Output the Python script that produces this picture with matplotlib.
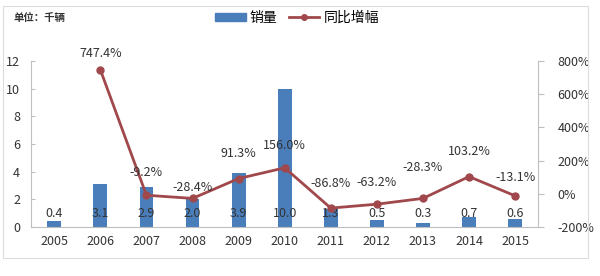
import matplotlib.pyplot as plt
from matplotlib.lines import Line2D
from matplotlib.patches import Patch, Rectangle

plt.rcParams['font.family'] = ['Noto Sans CJK SC', 'DejaVu Sans']

years = ['2005', '2006', '2007', '2008', '2009', '2010', '2011', '2012', '2013', '2014', '2015']
sales = [0.4, 3.1, 2.9, 2.0, 3.9, 10.0, 1.3, 0.5, 0.3, 0.7, 0.6]
growth = [747.4, -9.2, -28.4, 91.3, 156.0, -86.8, -63.2, -28.3, 103.2, -13.1]

# label offsets above each growth point, in pixels
growth_offsets = [16, 23, 11, 25, 22, 25, 22, 31, 25, 18]

bar_color = '#4A7EBB'
line_color = '#A0484B'
text_color = '#333333'
axis_color = '#bfbfbf'

fig = plt.figure(figsize=(6, 2.76), dpi=100)
fig.patches.append(Rectangle((0.005, 0.065), 0.975, 0.915, transform=fig.transFigure,
                             fill=False, edgecolor='#dddddd', lw=0.8))
ax = fig.add_axes([0.052, 0.178, 0.845, 0.601])
ax2 = ax.twinx()

x = list(range(len(years)))
ax.bar(x, sales, width=0.3, color=bar_color, zorder=2)
for xi, v in zip(x, sales):
    ax.text(xi, 1.0, f'{v:.1f}', ha='center', va='center', fontsize=9, color=text_color, zorder=4)

gx = x[1:]
ax2.plot(gx, growth, color=line_color, lw=2, marker='o', markersize=5, zorder=3)
for xi, v, off in zip(gx, growth, growth_offsets):
    ax2.annotate(f'{v:.1f}%', (xi, v), xytext=(0, off * 0.72), textcoords='offset points',
                 ha='center', va='center', fontsize=9, color=text_color)

ax.set_xlim(-0.5, len(years) - 0.5)
ax.set_ylim(0, 12)
ax.set_yticks(range(0, 13, 2))
ax2.set_ylim(-200, 800)
ax2.set_yticks(range(-200, 801, 200))
ax2.set_yticklabels([f'{t}%' for t in range(-200, 801, 200)])

ax.set_xticks(x)
ax.set_xticklabels(years)
for a in (ax, ax2):
    a.spines['top'].set_visible(False)
    a.tick_params(labelsize=9, colors=text_color, length=0)
ax.spines['right'].set_visible(False)
ax2.spines['left'].set_visible(False)
ax2.spines['bottom'].set_visible(False)
ax.spines['left'].set_color(axis_color)
ax.spines['bottom'].set_color(axis_color)
ax2.spines['right'].set_color(axis_color)
ax.tick_params(axis='y', length=3, color=axis_color, direction='in', pad=8)
ax.tick_params(axis='x', pad=6)
ax2.tick_params(axis='y', length=4, color=axis_color, direction='out', pad=10)

fig.text(0.022, 0.935, '单位：千辆', fontsize=7.5, fontweight='bold', color=text_color, va='center')

handles = [Patch(color=bar_color), Line2D([], [], color=line_color, marker='o', lw=2, markersize=4)]
fig.legend(handles, ['销量', '同比增幅'], loc='center', bbox_to_anchor=(0.495, 0.935), ncol=2,
           frameon=False, fontsize=10, handlelength=2.2, handleheight=0.5, columnspacing=0.8,
           handletextpad=0.3)

fig.savefig('out.png', dpi=100)
